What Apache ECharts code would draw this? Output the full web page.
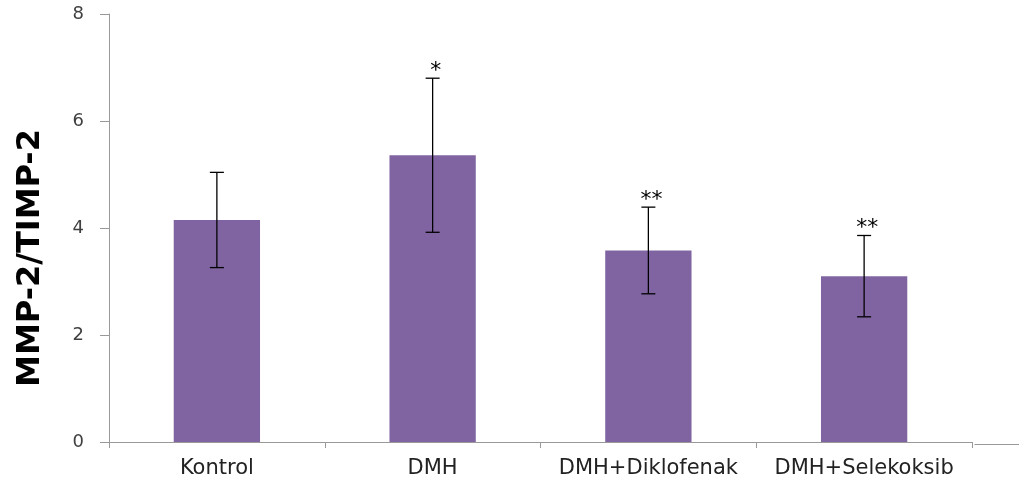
<!DOCTYPE html>
<html><head><meta charset="utf-8">
<script src="https://cdn.jsdelivr.net/npm/echarts@6/dist/echarts.min.js"></script>
<style>html,body{margin:0;padding:0;background:#fff}#c{width:1019px;height:486px}</style>
</head><body><div id="c"></div>
<script>
const categories = ['Kontrol', 'DMH', 'DMH+Diklofenak', 'DMH+Selekoksib'];
const means = [4.15, 5.36, 3.58, 3.10];
const errors = [0.89, 1.44, 0.81, 0.76];
const signif = ['', '*', '**', '**'];
const yTicks = [0, 2, 4, 6, 8];
const yTitle = 'MMP-2/TIMP-2';

const chart = echarts.init(document.getElementById('c'));
const errData = categories.map((c, i) => [i, means[i] - errors[i], means[i] + errors[i], signif[i]]);
chart.setOption({
  animation: false,
  grid: { left: 109, right: 47, top: 14, bottom: 44, containLabel: false, outerBoundsMode: 'none' },
  xAxis: {
    type: 'category', data: categories,
    axisLine: { lineStyle: { color: '#999', width: 1 } },
    axisTick: { show: true, length: 6, interval: 0, lineStyle: { color: '#999' } },
    axisLabel: { color: '#222', fontSize: 21, fontFamily: 'DejaVu Sans', margin: 16, interval: 0 }
  },
  yAxis: {
    type: 'value', min: yTicks[0], max: yTicks[yTicks.length - 1], interval: 2,
    axisLine: { show: true, lineStyle: { color: '#999' } },
    axisTick: { show: true, length: 9, lineStyle: { color: '#999' } },
    splitLine: { show: false },
    axisLabel: { color: '#404040', fontSize: 18, fontFamily: 'DejaVu Sans', margin: 25 }
  },
  graphic: [{
    type: 'line', left: 972, top: 442, shape: { x1: 0, y1: 0, x2: 47, y2: 0 },
    style: { stroke: '#999', lineWidth: 1 }
  }, {
    type: 'text', x: 31, y: 258, rotation: Math.PI / 2,
    style: { text: yTitle, align: 'center', verticalAlign: 'middle', fontSize: 32, fontWeight: 'bold', fill: '#000', fontFamily: 'DejaVu Sans' }
  }],
  series: [{
    type: 'bar', data: means, barWidth: '40%',
    itemStyle: { color: '#8064A2' }
  }, {
    type: 'custom', data: errData, z: 10,
    renderItem: function (params, api) {
      const x = api.value(0);
      const lo = api.coord([x, api.value(1)]);
      const hi = api.coord([x, api.value(2)]);
      const w = 7;
      const st = { stroke: '#000', lineWidth: 1.3 };
      const children = [
        { type: 'line', shape: { x1: hi[0], y1: hi[1], x2: lo[0], y2: lo[1] }, style: st },
        { type: 'line', shape: { x1: hi[0] - w, y1: hi[1], x2: hi[0] + w, y2: hi[1] }, style: st },
        { type: 'line', shape: { x1: lo[0] - w, y1: lo[1], x2: lo[0] + w, y2: lo[1] }, style: st }
      ];
      const s = signif[params.dataIndex];
      if (s) {
        children.push({ type: 'text', style: { text: s, x: hi[0] + 3, y: hi[1] + 4, align: 'center', verticalAlign: 'bottom', fontSize: 22, fill: '#000', fontFamily: 'DejaVu Sans' } });
      }
      return { type: 'group', children: children };
    }
  }]
});
</script></body></html>
